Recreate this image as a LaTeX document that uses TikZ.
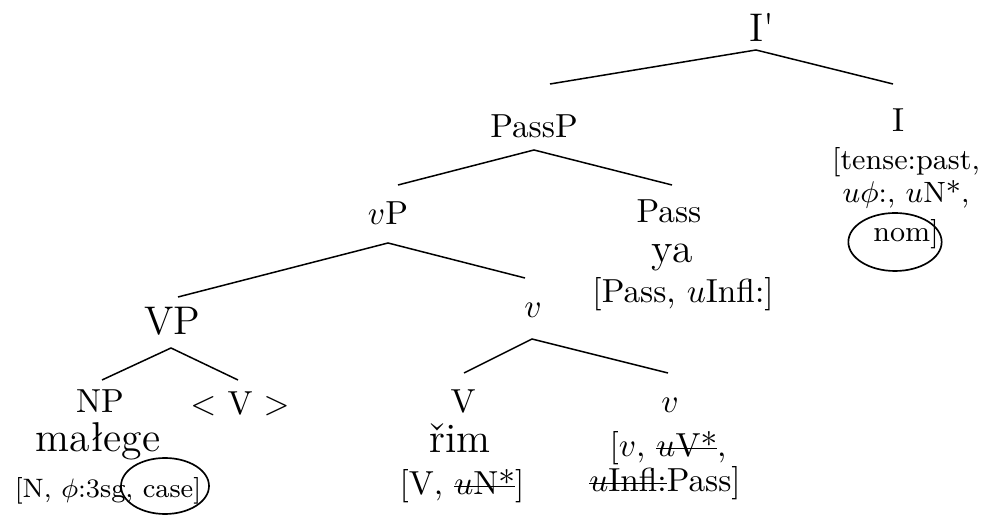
\documentclass[tikz,border=0pt]{standalone}
\usetikzlibrary{shapes.geometric}
\newsavebox{\strkbox}
\newcommand{\mystrike}[1]{\sbox{\strkbox}{#1}\rlap{\raisebox{0.55ex}{\rule{\wd\strkbox}{0.45pt}}}\usebox{\strkbox}}
\tikzset{
  lab/.style={anchor=base, inner sep=0pt, outer sep=0pt, font=\fontsize{10}{12}\selectfont},
  big/.style={lab, font=\fontsize{12}{14}\selectfont},
  word/.style={lab, font=\fontsize{12.5}{15}\selectfont},
  feat/.style={lab, font=\fontsize{10}{12}\selectfont},
  featsm/.style={lab, font=\fontsize{8.8}{11}\selectfont},
  featxs/.style={lab, font=\fontsize{8}{10}\selectfont},
  branch/.style={line width=0.45pt, line join=miter},
  circ/.style={draw, ellipse, line width=0.5pt, inner sep=0pt}
}
\begin{document}
\begin{tikzpicture}[x=0.3pt,y=-0.3pt]
\useasboundingbox (0,0) rectangle (982,515);
% labels
\node[big] (Ibar) at (762,42) {I\textquotesingle};
\node[lab] (PassP) at (534,138) {PassP};
\node[lab] (I) at (898,132) {I};
\node[featsm] (If1) at (906,170) {[tense:past,};
\node[featsm] (If2) at (906,203) {$u\phi$:, $u$N*,};
\node[featsm] (If3) at (906,242) {nom]};
\node[lab] (vP) at (388,225) {$v$P};
\node[lab] (Pass) at (669,223) {Pass};
\node[word] (ya) at (672,263) {ya};
\node[feat] (Passf) at (683,303) {[Pass, $u$Infl:]};
\node[big] (VP) at (172,335) {VP};
\node[lab] (vbar) at (533,318) {$v$};
\node[lab] (NP) at (100,413) {NP};
\node[lab] (Vtr) at (240,415) {$<$ V $>$};
\node[word] (malege) at (98,452) {małege};
\node[featxs] (NPf) at (108,498) {[N, $\phi$:3sg, case]};
\node[lab] (V) at (463,413) {V};
\node[word] (rim) at (460,453) {řim};
\node[feat] (Vf) at (462,495) {[V, \mystrike{$u$N*}]};
\node[lab] (v) at (670,413) {$v$};
\node[feat] (vf1) at (668,457) {[$v$, \mystrike{$u$V*},};
\node[feat] (vf2) at (665,492) {\mystrike{$u$Infl:}Pass]};
% circles
\node[circ, minimum width=28pt, minimum height=17.4pt] (nomc) at (895,242) {};
\node[circ, minimum width=26.4pt, minimum height=16.8pt] (casec) at (165,486) {};
% branch points
\coordinate (Ia) at (756,50);  \coordinate (Il) at (550,84);  \coordinate (Ir) at (893,84);
\coordinate (Pa) at (534,150); \coordinate (Pl) at (398,185); \coordinate (Pr) at (672,185);
\coordinate (va) at (388,243); \coordinate (vl) at (178,297); \coordinate (vr) at (525,278);
\coordinate (Va) at (171,348); \coordinate (Vl) at (102,380); \coordinate (Vr) at (238,380);
\coordinate (ba) at (532,339); \coordinate (bl) at (464,373); \coordinate (br) at (668,373);
\draw[branch] (Il) -- (Ia) -- (Ir);
\draw[branch] (Pl) -- (Pa) -- (Pr);
\draw[branch] (vl) -- (va) -- (vr);
\draw[branch] (Vl) -- (Va) -- (Vr);
\draw[branch] (bl) -- (ba) -- (br);
\end{tikzpicture}
\end{document}
